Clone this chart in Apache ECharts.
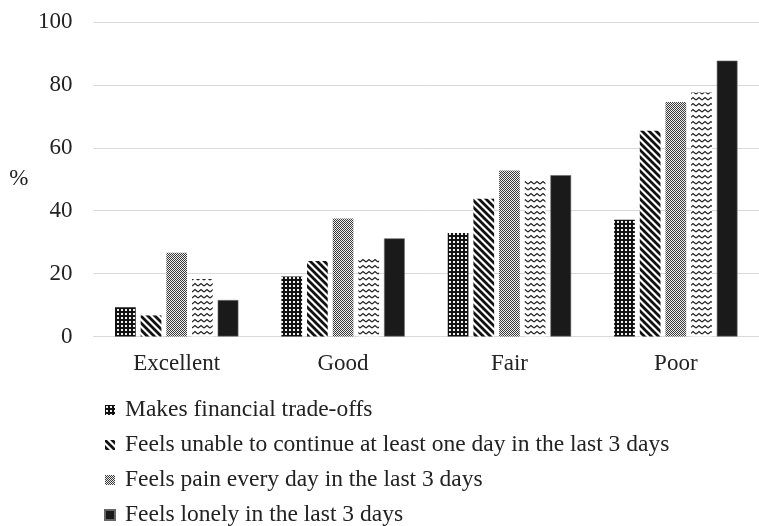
<!DOCTYPE html>
<html>
<head>
<meta charset="utf-8">
<script src="https://cdn.jsdelivr.net/npm/echarts@6/dist/echarts.min.js"></script>
<style>
html,body{margin:0;padding:0;background:#fff;}
#chart{width:759px;height:526px;}
</style>
</head>
<body>
<div id="chart"></div>
<script>
// ---- Data ----
const categories = ['Excellent', 'Good', 'Fair', 'Poor'];
const seriesNames = [
  'Makes financial trade-offs',
  'Feels unable to continue at least one day in the last 3 days',
  'Feels pain every day in the last 3 days',
  'Feels worried in the last 3 days',
  'Feels lonely in the last 3 days'
];
const legendNames = [
  'Makes financial trade-offs',
  'Feels unable to continue at least one day in the last 3 days',
  'Feels pain every day in the last 3 days',
  'Feels lonely in the last 3 days'
];
const financialTradeoffs = [9.3, 19.1, 32.9, 37.1];
const unableToContinue = [6.7, 24.0, 43.8, 65.4];
const painEveryDay = [26.6, 37.5, 52.8, 74.6];
const zigzagSeries = [18.3, 24.8, 49.6, 77.6];
const lonely = [11.6, 31.2, 51.3, 87.7];
const yTicks = [0, 20, 40, 60, 80, 100];

// ---- Patterns ----
function makeCanvas(w, h, draw) {
  const c = document.createElement('canvas');
  c.width = w; c.height = h;
  draw(c.getContext('2d'));
  return c;
}
const dotPattern = makeCanvas(4, 4, ctx => {
  ctx.fillStyle = '#111111'; ctx.fillRect(0, 0, 4, 4);
  ctx.fillStyle = '#f0f0f0'; ctx.fillRect(1, 1, 2, 2);
});
const stripePattern = makeCanvas(7, 7, ctx => {
  ctx.fillStyle = '#ffffff'; ctx.fillRect(0, 0, 7, 7);
  ctx.strokeStyle = '#111'; ctx.lineWidth = 2.8;
  ctx.beginPath();
  [-7, 0, 7].forEach(k => { ctx.moveTo(k - 2, -2); ctx.lineTo(k + 9, 9); });
  ctx.stroke();
});
const checkPattern = makeCanvas(2, 2, ctx => {
  ctx.fillStyle = '#eeeeee'; ctx.fillRect(0, 0, 2, 2);
  ctx.fillStyle = '#3a3a3a'; ctx.fillRect(0, 0, 1, 1); ctx.fillRect(1, 1, 1, 1);
});
const zigzagPattern = makeCanvas(6, 6, ctx => {
  ctx.fillStyle = '#ffffff'; ctx.fillRect(0, 0, 6, 6);
  ctx.strokeStyle = '#222'; ctx.lineWidth = 1.3;
  ctx.beginPath(); ctx.moveTo(0, 4); ctx.lineTo(3, 1.5); ctx.lineTo(6, 4); ctx.stroke();
});

const fills = [
  { image: dotPattern, repeat: 'repeat' },
  { image: stripePattern, repeat: 'repeat' },
  { image: checkPattern, repeat: 'repeat' },
  { image: zigzagPattern, repeat: 'repeat' },
  '#1a1a1a'
];
const values = [financialTradeoffs, unableToContinue, painEveryDay, zigzagSeries, lonely];

const FONT = 'Liberation Serif';
const chart = echarts.init(document.getElementById('chart'), null, { renderer: 'canvas' });
chart.setOption({
  animation: false,
  backgroundColor: '#fff',
  grid: { left: 93.5, top: 22, width: 674, height: 314.5 },
  legend: {
    data: legendNames,
    orient: 'vertical',
    left: 99,
    top: 393,
    height: 220,
    itemWidth: 10,
    itemHeight: 10,
    itemGap: 11,
    icon: 'rect',
    textStyle: { fontFamily: FONT, fontSize: 23.5, color: '#222', padding: [0, 0, 0, 5] }
  },
  xAxis: {
    type: 'category',
    data: categories,
    axisLine: { lineStyle: { color: '#d9d9d9', width: 1 } },
    axisTick: { show: false },
    axisLabel: { fontFamily: FONT, fontSize: 23, color: '#222', margin: 16 }
  },
  yAxis: {
    type: 'value',
    min: yTicks[0],
    max: yTicks[yTicks.length - 1],
    interval: 20,
    name: '%',
    nameLocation: 'middle',
    nameRotate: 0,
    nameGap: 65,
    nameTextStyle: { fontFamily: FONT, fontSize: 23, color: '#222' },
    axisLine: { show: false },
    axisTick: { show: false },
    splitLine: { lineStyle: { color: '#d9d9d9', width: 1 } },
    axisLabel: { fontFamily: FONT, fontSize: 23, color: '#222', margin: 21 }
  },
  series: seriesNames.map((name, i) => ({
    name: name,
    type: 'bar',
    data: values[i],
    barWidth: 20.7,
    barGap: '24%',
    itemStyle: i === 4 ? { color: fills[i], borderColor: '#666', borderWidth: 0.6 } : { color: fills[i] }
  }))
});
</script>
</body>
</html>
